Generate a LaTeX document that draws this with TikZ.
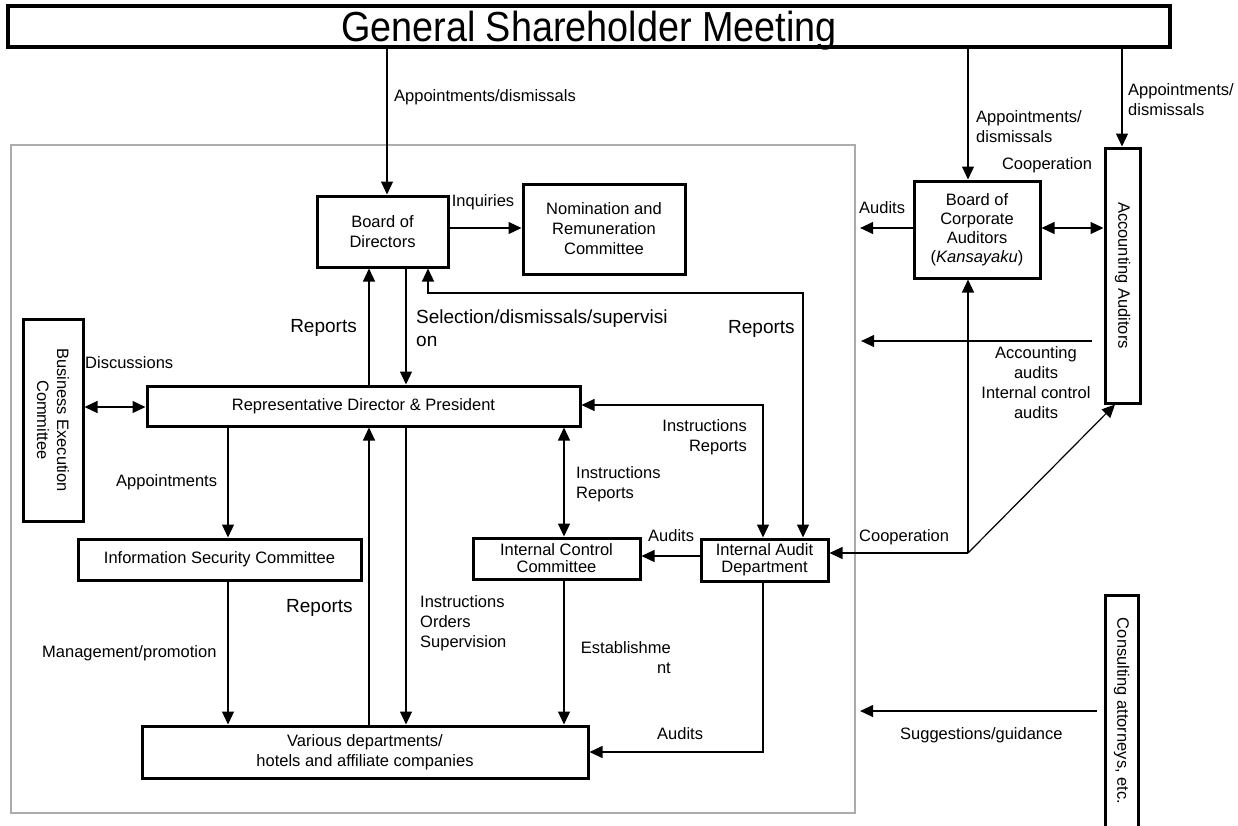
\documentclass[tikz,border=0pt]{standalone}
\usepackage{fontspec}
\setmainfont{Liberation Sans}
\usetikzlibrary{arrows.meta}
\newcommand\lblf{\fontsize{16.5}{20}\selectfont}
\newcommand\tightf{\fontsize{16.5}{17}\selectfont}
\newcommand\bigf{\fontsize{19}{23}\selectfont}
\newcommand\hugef{\fontsize{42}{46}\selectfont}
\begin{document}
\begin{tikzpicture}[x=1pt,y=-1pt,
  box/.style={draw, line width=3pt, inner sep=0pt, align=center, font=\lblf},
  tbox/.style={box, font=\tightf},
  arr/.style={line width=1.2pt, -{Triangle[length=13pt,width=12pt]}},
  darr/.style={line width=1.2pt, {Triangle[length=13pt,width=12pt]}-{Triangle[length=13pt,width=12pt]}},
  lbl/.style={inner sep=0pt, font=\lblf},
  big/.style={inner sep=0pt, font=\bigf},
  frame/.style={draw=gray!65, line width=2.2pt, inner sep=0pt}
]
\clip (0,0) rectangle (1238,825);
\useasboundingbox (0,0) rectangle (1238,825);

% frame
\node[frame, minimum width=844pt, minimum height=668pt] (frame) at (433,479) {};

% boxes
\node[box, line width=3.5pt, minimum width=1162pt, minimum height=41pt] (gsm) at (589,26.5) {};
\node[inner sep=0pt, font=\hugef] (gsmtext) at (589,31) {\scalebox{0.9}[1]{General Shareholder Meeting}};
\node[box, minimum width=131pt, minimum height=71pt] (bod) at (382.5,231.5) {Board of\\Directors};
\node[box, minimum width=162pt, minimum height=90pt] (nrc) at (604,229) {Nomination and\\Remuneration\\Committee};
\node[box, font=\fontsize{16.5}{19}\selectfont, minimum width=126pt, minimum height=97pt] (bca) at (977,229.5) {Board of\\Corporate\\Auditors\\(\textit{Kansayaku})};
\node[box, minimum width=35pt, minimum height=255pt] (aa) at (1122.5,275.5) {};
\node[lbl, rotate=-90] (aatext) at (aa.center) {Accounting Auditors};
\node[box, minimum width=60pt, minimum height=202pt] (bec) at (53,420) {};
\node[lbl, rotate=-90, align=center] (bectext) at (bec.center) {Business Execution\\Committee};
\node[box, minimum width=433pt, minimum height=40pt] (rdp) at (363.5,406) {Representative Director \& President};
\node[box, minimum width=283pt, minimum height=41pt] (isc) at (219.5,559.5) {Information Security Committee};
\node[tbox, minimum width=167pt, minimum height=41pt] (icc) at (556.5,558.5) {Internal Control\\Committee};
\node[tbox, minimum width=127pt, minimum height=42pt] (iad) at (764.5,560) {Internal Audit\\Department};
\node[box, minimum width=446pt, minimum height=52pt] (vd) at (365,752) {Various departments/\\hotels and affiliate companies};
\node[box, minimum width=33pt, minimum height=232pt] (ca) at (1121.5,711) {};
\node[lbl, rotate=-90] (catext) at (ca.center) {Consulting attorneys, etc.};

% connectors
\draw[arr] (gsm.south -| 387,0) -- (bod.north -| 387,0);
\draw[arr] (gsm.south -| 968,0) -- (bca.north -| 968,0);
\draw[arr] (gsm.south -| 1122,0) -- (aa.north -| 1122,0);
\draw[arr] (bod.east |- 0,228) -- (nrc.west |- 0,228);
\draw[arr, shorten >=4pt] (bca.west |- 0,228) -- (frame.east |- 0,228);
\draw[darr] (bca.east |- 0,228) -- (aa.west |- 0,228);
\coordinate (aaout) at (1092,341);
\draw[arr, shorten >=5pt] (aaout) -- (frame.east |- aaout);
\draw[darr] (bec.east |- 0,407) -- (rdp.west |- 0,407);
\draw[arr] (rdp.north -| 369,0) -- (bod.south -| 369,0);
\draw[arr] (bod.south -| 406,0) -- (rdp.north -| 406,0);
\draw[darr] (bod.south -| 428,0) -- (428,293) -- (803,293) -- (iad.north -| 803,0);
\draw[darr] (rdp.east |- 0,405) -- (763,405) -- (iad.north -| 763,0);
\draw[darr] (rdp.south -| 564,0) -- (icc.north -| 564,0);
\draw[arr] (iad.west |- 0,556) -- (icc.east |- 0,556);
\coordinate (coop) at (968,553);
\draw[arr] (coop) -- (bca.south -| coop);
\draw[arr] (coop) -- (iad.east |- coop);
\draw[arr] (coop) -- (aa.south -| 1115,0);
\draw[arr] (rdp.south -| 228,0) -- (isc.north -| 228,0);
\draw[arr] (isc.south -| 228,0) -- (vd.north -| 228,0);
\draw[arr] (vd.north -| 369,0) -- (rdp.south -| 369,0);
\draw[arr] (rdp.south -| 406,0) -- (vd.north -| 406,0);
\draw[arr] (icc.south -| 564,0) -- (vd.north -| 564,0);
\draw[arr] (iad.south -| 763,0) -- (763,752) -- (vd.east |- 0,752);
\coordinate (caout) at (1097,711);
\draw[arr, shorten >=4pt] (caout) -- (frame.east |- caout);

% labels
\node[lbl, anchor=west] at (394,97) {Appointments/dismissals};
\node[lbl, anchor=west, align=left] at (976,127) {Appointments/\\dismissals};
\node[lbl, anchor=west, align=left] at (1128,100) {Appointments/\\dismissals};
\node[lbl] at (483,202) {Inquiries};
\node[lbl, anchor=west] at (859,208) {Audits};
\node[lbl] at (1047,165) {Cooperation};
\node[lbl, align=center] at (1036,383) {Accounting\\audits\\Internal control\\audits};
\node[lbl, anchor=west] at (859,537) {Cooperation};
\node[lbl, anchor=west] at (900,735) {Suggestions/guidance};
\node[lbl, anchor=west] at (85,363) {Discussions};
\node[big, anchor=east] at (357,328) {Reports};
\node[big, anchor=west, align=left] at (416,328.5) {Selection/dismissals/supervisi\\on};
\node[big, anchor=west] at (728,329) {Reports};
\node[lbl, anchor=east, align=right] at (747,437.5) {Instructions\\Reports};
\node[lbl, anchor=west, align=left] at (576,484) {Instructions\\Reports};
\node[lbl, anchor=west] at (648,536) {Audits};
\node[lbl, anchor=west] at (116,482) {Appointments};
\node[big, anchor=west] at (286,608) {Reports};
\node[lbl, anchor=west, align=left] at (420,623) {Instructions\\Orders\\Supervision};
\node[lbl, anchor=east, align=right] at (671,658) {Establishme\\nt};
\node[lbl, anchor=west] at (42,653) {Management/promotion};
\node[lbl, anchor=west] at (657,734) {Audits};
\end{tikzpicture}
\end{document}
